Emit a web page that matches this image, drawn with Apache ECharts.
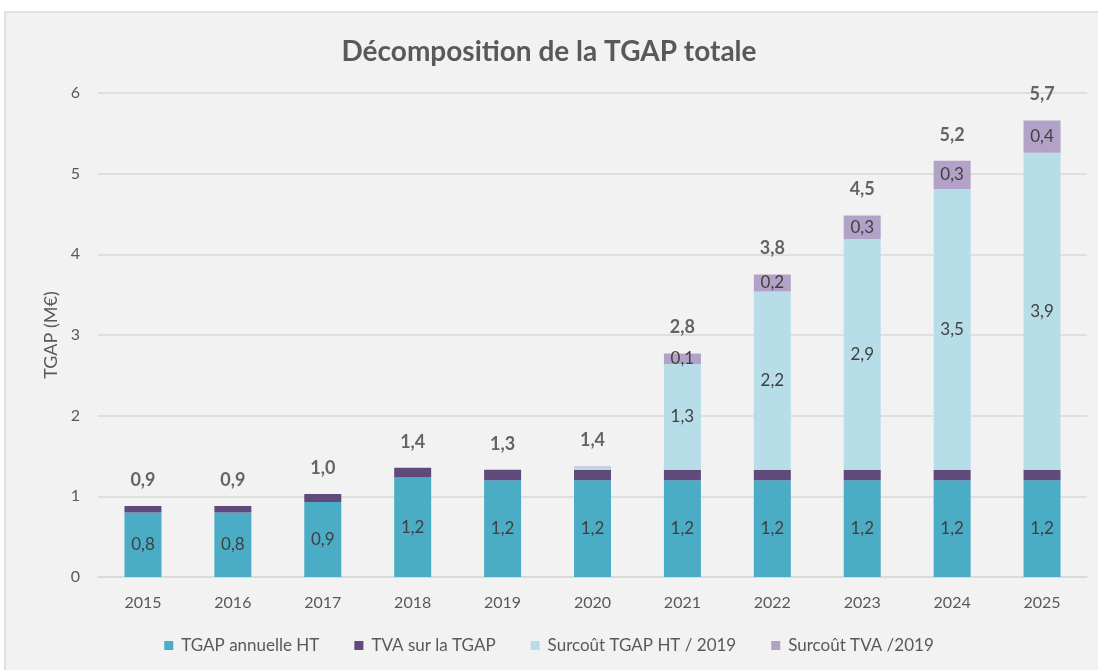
<!DOCTYPE html>
<html>
  <head>
    <meta charset="utf-8" />
    <title>TGAP</title>
    <script src="https://cdn.jsdelivr.net/npm/echarts@6.0.0/dist/echarts.min.js"></script>
    <style>
      html, body { margin: 0; padding: 0; background: #ffffff; }
    </style>
  </head>
  <body>
    <div id="chartContainer" style="width: 1098px;height:670px;"></div>
    <script>
        // données (M€)
        var years = ['2015', '2016', '2017', '2018', '2019', '2020', '2021', '2022', '2023', '2024', '2025'];
        var tgapHT = [0.80, 0.80, 0.93, 1.235, 1.20, 1.20, 1.20, 1.20, 1.20, 1.20, 1.20];
        var tvaTgap = [0.08, 0.08, 0.10, 0.12, 0.13, 0.13, 0.13, 0.13, 0.13, 0.13, 0.13];
        var surcoutHT = [0, 0, 0, 0, 0, 0.03, 1.31, 2.21, 2.86, 3.48, 3.93];
        var surcoutTVA = [0, 0, 0, 0, 0, 0.01, 0.13, 0.21, 0.29, 0.35, 0.40];
        var totals = [0.9, 0.9, 1.0, 1.4, 1.3, 1.4, 2.8, 3.8, 4.5, 5.2, 5.7];
        var yTicks = [0, 1, 2, 3, 4, 5, 6];

        var stackTop = years.map(function (y, i) {
          return tgapHT[i] + tvaTgap[i] + surcoutHT[i] + surcoutTVA[i];
        });

        function fr(v) {
          return v.toFixed(1).replace('.', ',');
        }

        var chart = echarts.init(document.getElementById('chartContainer'));
        var fontFam = 'Lato, "Open Sans", sans-serif';

        var insideLabel = {
          show: true,
          position: 'inside',
          color: '#404040',
          fontSize: 17,
          fontFamily: fontFam,
          formatter: function (p) {
            return p.value >= 0.08 ? fr(p.value) : '';
          }
        };

        var option = {
          graphic: [{
            type: 'rect',
            z: -10,
            silent: true,
            shape: { x: 5, y: 12, width: 1100, height: 670 },
            style: { fill: '#f2f2f2', stroke: '#d9d9d9', lineWidth: 1.5 }
          }],
          title: {
            text: 'Décomposition de la TGAP totale',
            left: 'center',
            top: 33,
            textStyle: { color: '#595959', fontSize: 28, fontWeight: 'bold', fontFamily: fontFam }
          },
          legend: {
            bottom: 11,
            left: 'center',
            icon: 'rect',
            itemWidth: 9,
            itemHeight: 9,
            itemGap: 35,
            data: ['TGAP annuelle HT', 'TVA sur la TGAP', 'Surcoût TGAP HT / 2019', 'Surcoût TVA /2019'],
            textStyle: { color: '#595959', fontSize: 17, fontFamily: fontFam, padding: [0, 0, 0, 3] }
          },
          grid: { left: 98, right: 11, top: 93, bottom: 93 },
          xAxis: {
            type: 'category',
            data: years,
            axisTick: { show: false },
            axisLine: { lineStyle: { color: '#d9d9d9', width: 1.5 } },
            axisLabel: { color: '#595959', fontSize: 16, margin: 18, fontFamily: fontFam }
          },
          yAxis: {
            type: 'value',
            min: yTicks[0],
            max: yTicks[yTicks.length - 1],
            interval: 1,
            name: 'TGAP (M€)',
            nameLocation: 'middle',
            nameGap: 36,
            nameTextStyle: { color: '#595959', fontSize: 18, fontFamily: fontFam },
            axisLabel: { color: '#595959', fontSize: 16, margin: 18, fontFamily: fontFam },
            splitLine: { lineStyle: { color: '#d9d9d9', width: 1.5 } }
          },
          series: [
            {
              name: 'TGAP annuelle HT', type: 'bar', stack: 'tgap', barWidth: 37,
              itemStyle: { color: '#4bacc6' },
              label: insideLabel,
              data: tgapHT
            },
            {
              name: 'TVA sur la TGAP', type: 'bar', stack: 'tgap', barWidth: 37,
              itemStyle: { color: '#604a7b' },
              data: tvaTgap
            },
            {
              name: 'Surcoût TGAP HT / 2019', type: 'bar', stack: 'tgap', barWidth: 37,
              itemStyle: { color: '#b7dde8' },
              label: insideLabel,
              data: surcoutHT
            },
            {
              name: 'Surcoût TVA /2019', type: 'bar', stack: 'tgap', barWidth: 37,
              itemStyle: { color: '#b3a2c7' },
              label: insideLabel,
              data: surcoutTVA
            },
            {
              name: 'Total', type: 'scatter', symbolSize: 0, silent: true,
              data: stackTop,
              label: {
                show: true,
                position: 'top',
                distance: 17,
                color: '#404040',
                fontSize: 18,
                fontWeight: 'bold',
                fontFamily: fontFam,
                formatter: function (p) { return fr(totals[p.dataIndex]); }
              }
            }
          ]
        };

        chart.setOption(option);
    </script>
  </body>
</html>
